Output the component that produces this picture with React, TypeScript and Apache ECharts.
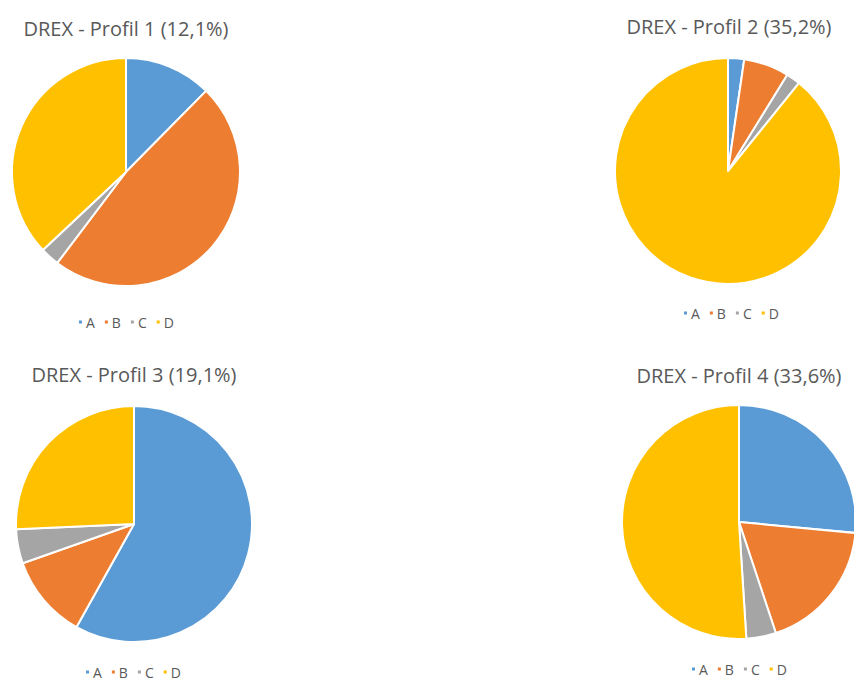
import React, { useEffect, useRef } from "react";
import * as echarts from "echarts";

const categories = ["A", "B", "C", "D"];
const colors = ["#5B9BD5", "#ED7D31", "#A5A5A5", "#FFC000"];
const profileTitles = [
  "DREX - Profil 1 (12,1%)",
  "DREX - Profil 2 (35,2%)",
  "DREX - Profil 3 (19,1%)",
  "DREX - Profil 4 (33,6%)",
];
const profil1 = [12.4, 47.9, 2.7, 37.0];
const profil2 = [2.3, 6.5, 2.0, 89.2];
const profil3 = [58.1, 11.5, 4.7, 25.7];
const profil4 = [26.5, 18.4, 4.1, 51.0];

const layouts = [
  { cx: 126, cy: 172, r: 114, tx: 126, ty: 28, lx: 77, ly: 322 },
  { cx: 728, cy: 171, r: 113, tx: 729, ty: 26, lx: 682, ly: 313 },
  { cx: 134, cy: 524, r: 118, tx: 134, ty: 374, lx: 84, ly: 672 },
  { cx: 739, cy: 522, r: 117, tx: 739, ty: 375, lx: 690, ly: 669 },
];

export default function App() {
  const ref = useRef<HTMLDivElement>(null);
  useEffect(() => {
    if (!ref.current) return;
    const chart = echarts.init(ref.current, null, { renderer: "svg" });
    const allData = [profil1, profil2, profil3, profil4];
    const font = "'Open Sans', 'Liberation Sans', sans-serif";
    chart.setOption({
      animation: false,
      color: colors,
      title: profileTitles.map((t, i) => ({
        text: t,
        left: layouts[i].tx,
        top: layouts[i].ty - 11,
        padding: 0,
        textAlign: "center",
        textStyle: { fontSize: 20, fontWeight: "normal", color: "#595959", fontFamily: font, lineHeight: 22 },
      })),
      legend: layouts.map((l, i) => ({
        data: categories,
        left: l.lx,
        top: l.ly - 7,
        padding: 0,
        icon: "rect",
        itemWidth: 5,
        itemHeight: 5,
        itemGap: 8,
        selectedMode: false,
        textStyle: { fontSize: 14, color: "#595959", fontFamily: font, padding: [0, 0, 0, -2], lineHeight: 14 },
      })),
      series: allData.map((vals, i) => ({
        type: "pie",
        center: [layouts[i].cx, layouts[i].cy],
        radius: [0, layouts[i].r],
        startAngle: 90,
        clockwise: true,
        label: { show: false },
        labelLine: { show: false },
        emphasis: { disabled: true },
        itemStyle: { borderColor: "#ffffff", borderWidth: 2 },
        data: categories.map((c, j) => ({ name: c, value: vals[j] })),
      })),
    });
    return () => chart.dispose();
  }, []);
  return (
    <div
      ref={ref}
      style={{ position: "fixed", left: 0, top: 0, width: 854, height: 682, background: "#ffffff" }}
    />
  );
}
